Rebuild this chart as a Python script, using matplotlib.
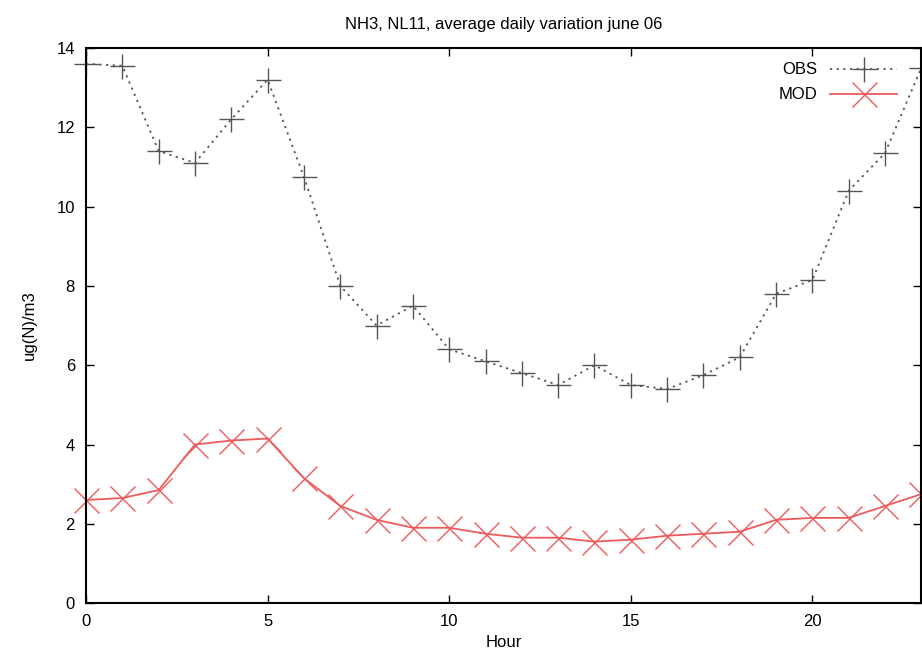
import numpy as np
import matplotlib
matplotlib.use('Agg')
import matplotlib.pyplot as plt

plt.rcParams['font.family'] = ['Liberation Sans', 'DejaVu Sans']

hours = list(range(24))
obs = [13.6, 13.55, 11.4, 11.1, 12.2, 13.2, 10.75, 8.0, 7.0, 7.5, 6.4, 6.1,
       5.8, 5.5, 6.0, 5.5, 5.4, 5.75, 6.2, 7.8, 8.15, 10.4, 11.35, 13.5]
mod = [2.6, 2.65, 2.85, 4.0, 4.1, 4.15, 3.15, 2.45, 2.1, 1.9, 1.9, 1.75,
       1.65, 1.65, 1.55, 1.6, 1.7, 1.75, 1.8, 2.1, 2.15, 2.15, 2.45, 2.75]

fig = plt.figure(figsize=(9.22, 6.57), dpi=100)
ax = fig.add_axes([0.0933, 0.082, 0.906, 0.845])

ax.plot(hours, obs, color='#555555', ls=(0, (1.2, 2.5)), lw=1.3,
        marker='+', ms=18, mew=1.0, label='OBS', clip_on=False)
ax.plot(hours, mod, color='#ee5a5a', ls='-', lw=1.3,
        marker='x', ms=18, mew=1.0, label='MOD', clip_on=False)

ax.set_xlim(0, 23)
ax.set_ylim(0, 14)
ax.set_xticks([0, 5, 10, 15, 20])
ax.set_yticks([0, 2, 4, 6, 8, 10, 12, 14])
ax.tick_params(direction='in', top=True, right=True, length=6, width=1,
               labelsize=12, pad=8)
for s in ax.spines.values():
    s.set_linewidth(1.5)

ax.set_title('NH3, NL11, average daily variation june 06', fontsize=12, pad=14)
ax.set_xlabel('Hour', fontsize=12, labelpad=4)
ax.set_ylabel('ug(N)/m3', fontsize=12, labelpad=14)

ax.legend(loc='upper right', frameon=False, markerfirst=False, fontsize=12,
          handlelength=4, borderaxespad=0.3, labelspacing=0.6,
          bbox_to_anchor=(0.985, 0.995))

fig.savefig('out.png', dpi=100)
